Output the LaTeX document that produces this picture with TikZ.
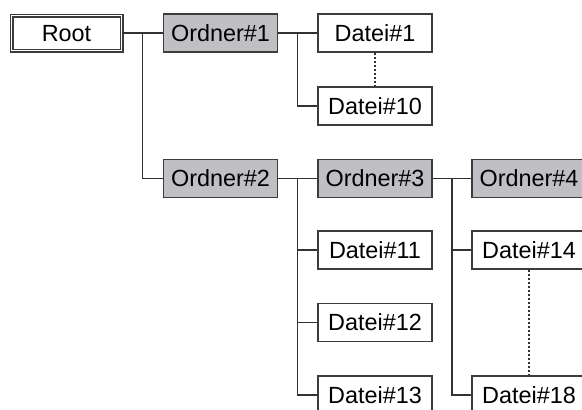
\documentclass[tikz,border=0pt]{standalone}
\usepackage{fontspec}
\setmainfont{Liberation Sans}
\usetikzlibrary{calc}
\definecolor{boxfill}{RGB}{192,192,196}
\definecolor{boxline}{RGB}{60,60,60}
\definecolor{conline}{RGB}{50,50,50}
\tikzset{
  base/.style={draw=boxline, line width=1.5pt, minimum width=114pt, minimum height=38pt,
    inner sep=0pt, font=\fontsize{23.4}{28}\selectfont, text height=16.8pt, text depth=0pt},
  folder/.style={base, fill=boxfill},
  file/.style={base, fill=white},
  rootbox/.style={base, minimum width=110pt, minimum height=35pt, double=white, double distance=1.6pt, line width=1.2pt},
  conn/.style={draw=conline, line width=1.4pt},
  dotconn/.style={draw=conline, line width=1.2pt, dash pattern=on 2pt off 2pt}
}
\begin{document}
\begin{tikzpicture}[x=1pt,y=-1pt]
\useasboundingbox (0,0) rectangle (582,410);
\clip (0,0) rectangle (582,410);
\node[rootbox] (root) at (66.5,33) {Root};
\node[folder] (o1) at (220.5,33) {Ordner\#1};
\node[file] (d1) at (375,33) {Datei\#1};
\node[file] (d10) at (375,106) {Datei\#10};
\node[folder] (o2) at (220.5,178.5) {Ordner\#2};
\node[folder] (o3) at (375,178.5) {Ordner\#3};
\node[folder] (o4) at (529,178.5) {Ordner\#4};
\node[file] (d11) at (375,250) {Datei\#11};
\node[file] (d14) at (529,250) {Datei\#14};
\node[file] (d12) at (375,322.5) {Datei\#12};
\node[file] (d13) at (375,395) {Datei\#13};
\node[file] (d18) at (529,395) {Datei\#18};
\coordinate (j1) at ($(root.east)!0.5!(o1.west)$);
\coordinate (j2) at ($(o1.east)!0.5!(d1.west)$);
\coordinate (j3) at ($(o2.east)!0.5!(o3.west)$);
\coordinate (j4) at ($(o3.east)!0.5!(o4.west)$);
\draw[conn] (root.east) -- (o1.west);
\draw[conn] (j1) |- (o2.west);
\draw[conn] (o1.east) -- (d1.west);
\draw[conn] (j2) |- (d10.west);
\draw[conn] (o2.east) -- (o3.west);
\draw[conn] (j3) |- (d11.west);
\draw[conn] (j3) |- (d12.west);
\draw[conn] (j3) |- (d13.west);
\draw[conn] (o3.east) -- (o4.west);
\draw[conn] (j4) |- (d14.west);
\draw[conn] (j4) |- (d18.west);
\draw[dotconn] (d1.south) -- (d10.north);
\draw[dotconn] (d14.south) -- (d18.north);
\end{tikzpicture}
\end{document}
